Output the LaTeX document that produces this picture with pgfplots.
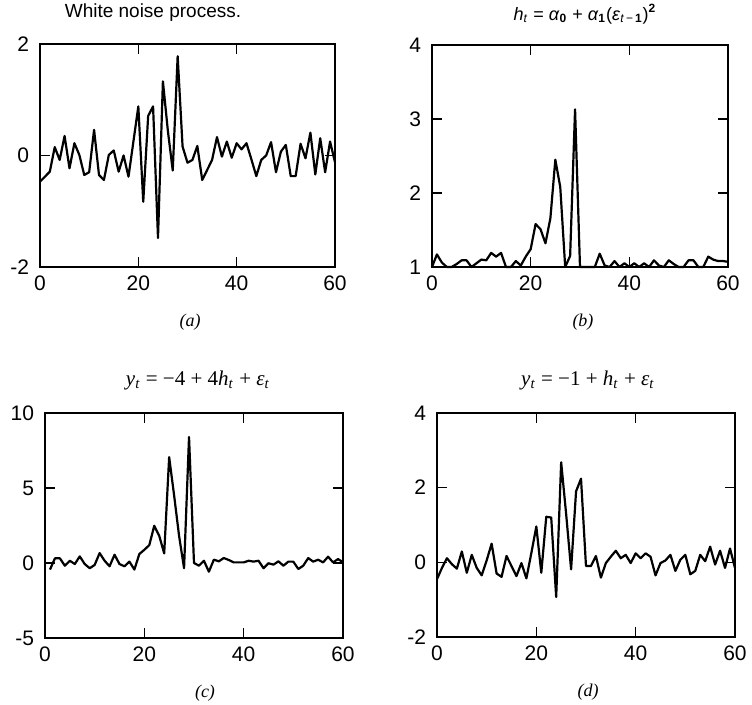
\documentclass[border=0pt]{standalone}
\usepackage{fontspec}
\setmainfont{Liberation Sans}
\newfontfamily\serif{Liberation Serif}
\usepackage{pgfplots}
\pgfplotsset{compat=1.18}

\pgfplotstableread{
x y
0 -0.47
1 -0.38
2 -0.29
3 0.15
4 -0.08
5 0.35
6 -0.23
7 0.22
8 0.01
9 -0.35
10 -0.30
11 0.46
12 -0.35
13 -0.44
14 0.01
15 0.09
16 -0.29
17 0.00
18 -0.38
19 0.25
20 0.88
21 -0.83
22 0.71
23 0.88
24 -1.48
25 1.33
26 0.45
27 -0.27
28 1.78
29 0.16
30 -0.13
31 -0.08
32 0.17
33 -0.44
34 -0.26
35 -0.08
36 0.33
37 -0.02
38 0.25
39 -0.04
40 0.22
41 0.11
42 0.22
43 -0.07
44 -0.37
45 -0.08
46 0.00
47 0.24
48 -0.30
49 0.07
50 0.19
51 -0.37
52 -0.37
53 0.21
54 -0.05
55 0.41
56 -0.34
57 0.31
58 -0.30
59 0.25
60 -0.12
}\epsdata

\pgfplotstableread{
x y
0 1.00
1 1.17
2 1.06
3 1.00
4 1.00
5 1.04
6 1.09
7 1.09
8 1.00
9 1.05
10 1.10
11 1.09
12 1.19
13 1.14
14 1.19
15 1.00
16 1.00
17 1.08
18 1.02
19 1.14
20 1.24
21 1.58
22 1.51
23 1.32
24 1.66
25 2.45
26 2.08
27 1.00
28 1.15
29 3.13
30 1.00
31 1.00
32 1.00
33 1.00
34 1.18
35 1.02
36 1.00
37 1.08
38 1.00
39 1.05
40 1.00
41 1.05
42 1.00
43 1.05
44 1.00
45 1.09
46 1.02
47 1.00
48 1.09
49 1.04
50 1.00
51 1.00
52 1.09
53 1.09
54 1.00
55 1.00
56 1.14
57 1.10
58 1.08
59 1.08
60 1.07
}\hdata

\pgfplotstableread{
x y
1 -0.44
2 0.31
3 0.31
4 -0.18
5 0.15
6 -0.07
7 0.44
8 -0.07
9 -0.35
10 -0.13
11 0.66
12 0.15
13 -0.22
14 0.55
15 -0.07
16 -0.22
17 0.09
18 -0.44
19 0.60
20 0.88
21 1.19
22 2.48
23 1.81
24 0.64
25 7.06
26 4.50
27 1.80
28 -0.35
29 8.40
30 0.00
31 -0.18
32 0.15
33 -0.58
34 0.22
35 0.11
36 0.33
37 0.20
38 0.04
39 0.04
40 0.04
41 0.15
42 0.09
43 0.15
44 -0.35
45 -0.02
46 -0.11
47 0.11
48 -0.18
49 0.09
50 0.09
51 -0.40
52 -0.18
53 0.33
54 0.09
55 0.22
56 0.04
57 0.42
58 0.04
59 0.26
60 0.05
}\ycdata

\pgfplotstableread{
x y
0 -0.45
1 -0.15
2 0.11
3 -0.05
4 -0.17
5 0.29
6 -0.28
7 0.20
8 -0.15
9 -0.35
10 0.05
11 0.50
12 -0.30
13 -0.39
14 0.17
15 -0.10
16 -0.37
17 -0.02
18 -0.43
19 0.25
20 0.96
21 -0.28
22 1.22
23 1.20
24 -0.93
25 2.68
26 1.30
27 -0.19
28 1.90
29 2.24
30 -0.10
31 -0.10
32 0.17
33 -0.41
34 -0.02
35 0.15
36 0.31
37 0.11
38 0.20
39 -0.02
40 0.24
41 0.11
42 0.24
43 0.15
44 -0.35
45 -0.02
46 0.05
47 0.20
48 -0.23
49 0.07
50 0.20
51 -0.32
52 -0.23
53 0.20
54 0.03
55 0.42
56 -0.06
57 0.31
58 -0.15
59 0.37
60 -0.15
}\yddata

\pgfplotsset{
  panel/.style={
    scale only axis,
    anchor=south west,
    width=148pt, height=112pt,
    xmin=0, xmax=60,
    xtick={0,20,40,60},
    tick align=inside,
    xtick pos=both, ytick pos=both,
    major tick length=5pt,
    axis line style={line width=0.7pt},
    every tick/.style={line width=0.7pt},
    tick label style={font=\fontsize{10.5}{12}\selectfont},
    xticklabel style={yshift=-1pt},
    yticklabel style={xshift=-2pt},
    /pgf/number format/assume math mode=true,
    clip=false,
  },
  dataline/.style={black, line width=1.1pt, line join=round, no marks},
}

\begin{document}
\begin{tikzpicture}
\path[use as bounding box] (0,0) rectangle (376pt,352.5pt);

% (a)
\begin{axis}[panel, at={(20pt,219pt)}, width=147.5pt, height=111.5pt,
  ymin=-2, ymax=2, ytick={-2,0,2}]
\addplot[dataline] table[x=x,y=y] {\epsdata};
\end{axis}

% (b)
\begin{axis}[panel, at={(216pt,219pt)}, width=148pt, height=111pt,
  ymin=1, ymax=4, ytick={1,2,3,4}]
\addplot[dataline] table[x=x,y=y] {\hdata};
\end{axis}

% (c)
\begin{axis}[panel, at={(22.5pt,33.5pt)}, width=149pt, height=112.5pt,
  ymin=-5, ymax=10, ytick={-5,0,5,10}]
\addplot[dataline] table[x=x,y=y] {\ycdata};
\end{axis}

% (d)
\begin{axis}[panel, at={(218.5pt,34pt)}, width=149pt, height=112pt,
  ymin=-2, ymax=4, ytick={-2,0,2,4}]
\addplot[dataline] table[x=x,y=y] {\yddata};
\end{axis}

% titles
\node[font=\fontsize{9.5}{11}\selectfont] at (76.5pt,346pt) {White noise process.};
\node[font=\fontsize{9}{11}\selectfont] at (292.5pt,345.5pt)
  {\textit{h}\textsubscript{\textit{t}} = \textit{α}\textsubscript{\textbf{0}} + \textit{α}\textsubscript{\textbf{1}}(\textit{ε}\textsubscript{\textit{t}\,−\,\textbf{1}})\textsuperscript{\textbf{2}}};
\node[font=\serif\fontsize{10.5}{13}\selectfont] at (99pt,162.5pt)
  {\textit{y}\textsubscript{\textit{t}} = −4 + 4\textit{h}\textsubscript{\textit{t}} + \textit{ε}\textsubscript{\textit{t}}};
\node[font=\serif\fontsize{10.5}{13}\selectfont] at (294pt,162.5pt)
  {\textit{y}\textsubscript{\textit{t}} = −1 + \textit{h}\textsubscript{\textit{t}} + \textit{ε}\textsubscript{\textit{t}}};

% sub captions
\node[font=\serif\itshape\fontsize{9}{11}\selectfont] at (95pt,191.5pt) {(a)};
\node[font=\serif\itshape\fontsize{9}{11}\selectfont] at (291.5pt,191.5pt) {(b)};
\node[font=\serif\itshape\fontsize{9}{11}\selectfont] at (102.5pt,6pt) {(c)};
\node[font=\serif\itshape\fontsize{9}{11}\selectfont] at (294pt,6.5pt) {(d)};
\end{tikzpicture}
\end{document}
